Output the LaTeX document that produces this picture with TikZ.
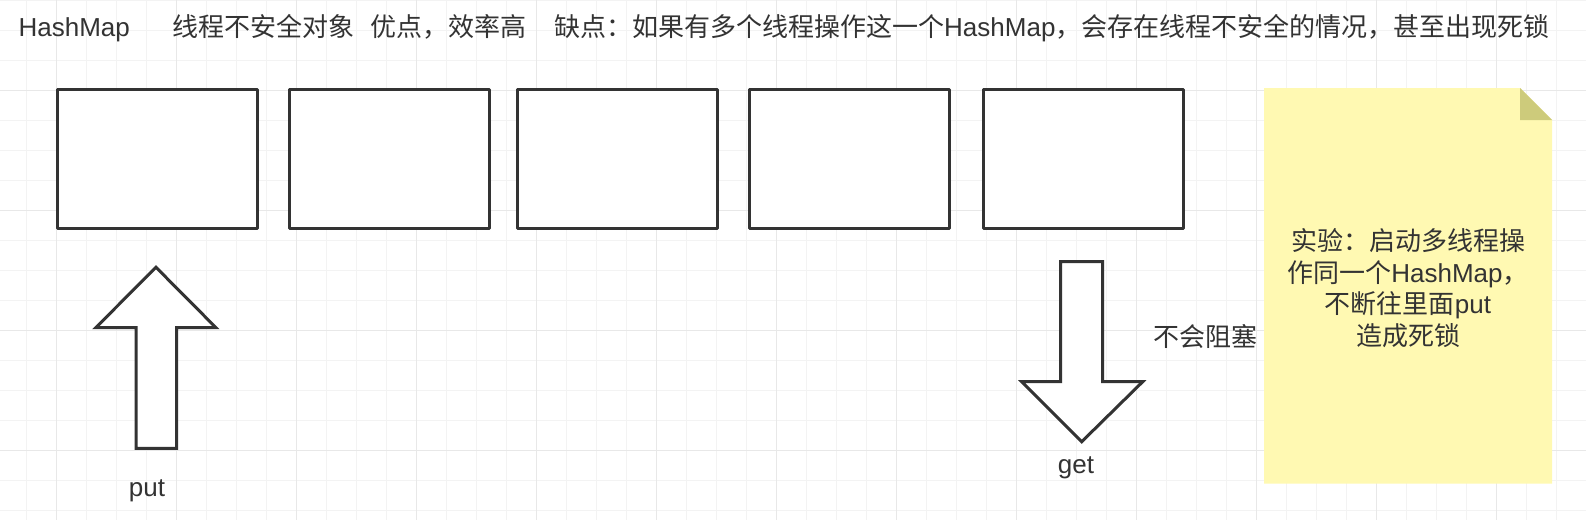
\documentclass[tikz,border=0pt]{standalone}
\usepackage{fontspec}
\setmainfont{Liberation Sans}
\newfontfamily\cjk{Noto Sans CJK SC}
\definecolor{ink}{HTML}{333333}
\definecolor{gridminor}{HTML}{F3F3F3}
\definecolor{gridmajor}{HTML}{E8E8E8}
\definecolor{notefill}{HTML}{FFF9B2}
\definecolor{notefold}{HTML}{CDCB7B}
\begin{document}
\begin{tikzpicture}[x=1pt,y=-1pt,
  minorline/.style={draw=gridminor, line width=1.3pt},
  majorline/.style={draw=gridmajor, line width=1.3pt},
  slotbox/.style={draw=ink, line width=3pt, line join=round, fill=white,
    minimum width=200pt, minimum height=139.5pt, inner sep=0pt, anchor=north west},
  blockarrow/.style={draw=ink, line width=3pt, fill=white},
  txt/.style={text=ink, font=\fontsize{26}{31.7}\selectfont, inner sep=0pt}]
\useasboundingbox (0,0) rectangle (1586,520);
\fill[white] (0,0) rectangle (1586,520);
% grid
\foreach \x in {26.7,56.7,...,1586} \draw[minorline] (\x,0) -- (\x,520);
\foreach \y in {0.7,30.7,...,520} \draw[minorline] (0,\y) -- (1586,\y);
\foreach \x in {56.7,176.7,...,1586} \draw[majorline] (\x,0) -- (\x,520);
\foreach \y in {90.7,210.7,...,520} \draw[majorline] (0,\y) -- (1586,\y);
% title
\node[txt, anchor=base west] (t1) at (18.4,36) {HashMap};
\node[txt, anchor=base west] (t2) at (172,36) {\cjk 线程不安全对象};
\node[txt, anchor=base west] (t3) at (370,36) {\cjk 优点，效率高};
\node[txt, anchor=base west] (t4) at (554,36) {{\cjk 缺点：如果有多个线程操作这一个}HashMap{\cjk ，会存在线程不安全的情况，甚至出现死锁}};
% boxes
\node[slotbox] (b1) at (56,87.7) {};
\node[slotbox] (b2) at (288,87.7) {};
\node[slotbox] (b3) at (516,87.7) {};
\node[slotbox] (b4) at (748,87.7) {};
\node[slotbox] (b5) at (982,87.7) {};
% put arrow
\draw[blockarrow] (156,267.3) -- (216,327.7) -- (176.5,327.7) -- (176.5,448.3)
  -- (136,448.3) -- (136,327.7) -- (95.7,327.7) -- cycle;
\node[txt, anchor=base] (put) at (147,496.5) {put};
% get arrow
\draw[blockarrow] (1060.7,261.7) -- (1102.7,261.7) -- (1102.7,381.7) -- (1142.7,381.7)
  -- (1081.7,441.7) -- (1021.7,381.7) -- (1060.7,381.7) -- cycle;
\node[txt, anchor=base] (get) at (1076,473.5) {get};
\node[txt, anchor=base west] (nb) at (1153,346) {\cjk 不会阻塞};
% note
\fill[notefill] (1264,88) -- (1520,88) -- (1552,120) -- (1552,483.5) -- (1264,483.5) -- cycle;
\fill[notefold] (1520,88) -- (1552,120) -- (1520,120) -- cycle;
\node[txt, align=center, anchor=center] (note) at (1408,288)
  {{\cjk 实验：启动多线程操}\\{\cjk 作同一个}HashMap{\cjk ，}\\{\cjk 不断往里面}put\\{\cjk 造成死锁}};
\end{tikzpicture}
\end{document}
